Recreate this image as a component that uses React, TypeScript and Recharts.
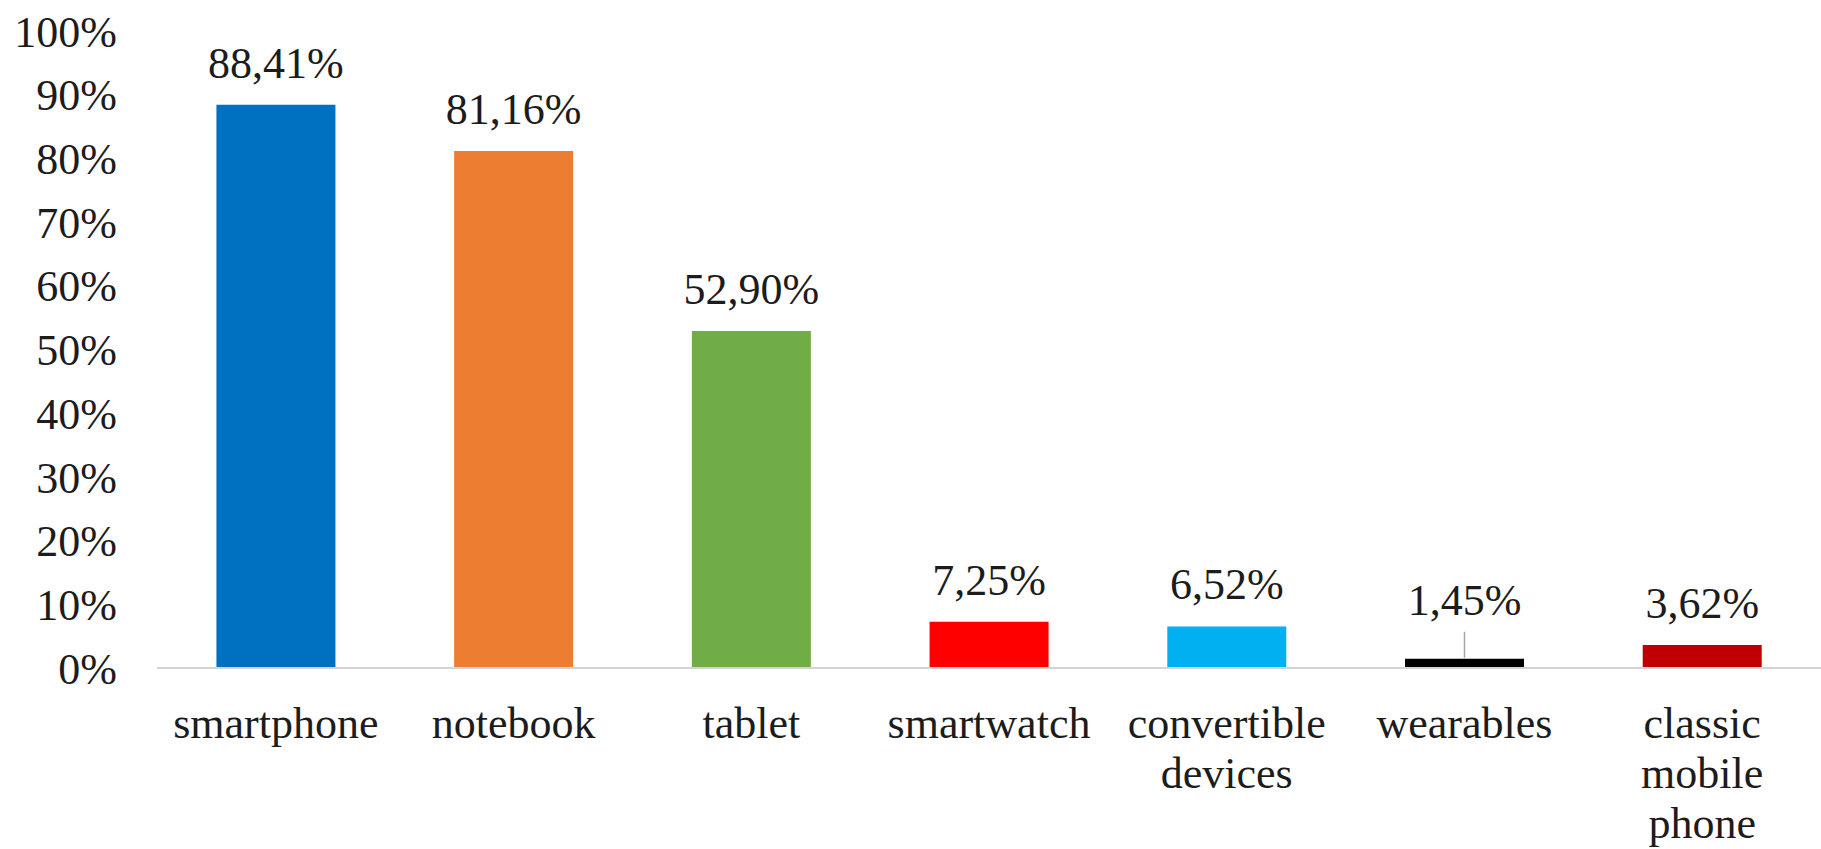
import { BarChart, Bar, XAxis, YAxis, Cell, LabelList } from "recharts";

const categories = [
  "smartphone",
  "notebook",
  "tablet",
  "smartwatch",
  "convertible devices",
  "wearables",
  "classic mobile phone",
];
const shares = [88.41, 81.16, 52.9, 7.25, 6.52, 1.45, 3.62];
const barColors = ["#0070C0", "#ED7D31", "#70AD47", "#FF0000", "#00B0F0", "#000000", "#C00000"];
const yTicks = [0, 10, 20, 30, 40, 50, 60, 70, 80, 90, 100];

const FONT = "'Liberation Serif', 'Times New Roman', serif";
const TEXT = "#1c1c1c";

const data = categories.map((name, i) => ({ name, value: shares[i] }));

const fmt = (v: number) => v.toFixed(2).replace(".", ",") + "%";

// multi-line category labels, one word per line
function CategoryTick(props: any) {
  const { x, y, payload } = props;
  const words = String(payload.value).split(" ");
  return (
    <text x={x} y={y} textAnchor="middle" fontFamily={FONT} fontSize={44} fill={TEXT}>
      {words.map((w, i) => (
        <tspan key={i} x={x} dy={i === 0 ? 70 : 50}>
          {w}
        </tspan>
      ))}
    </text>
  );
}

// value labels; the tiny wearables bar gets its label lifted with a leader line
function ValueLabel(props: any) {
  const { x, y, width, value, index } = props;
  const cx = Number(x) + Number(width) / 2;
  const top = Number(y);
  const lifted = categories[index] === "wearables";
  return (
    <g>
      {lifted && (
        <line x1={cx} y1={top - 1} x2={cx} y2={top - 27} stroke="#a6a6a6" strokeWidth={1.5} />
      )}
      <text
        x={cx}
        y={top - (lifted ? 44 : 27)}
        textAnchor="middle"
        fontFamily={FONT}
        fontSize={44}
        fill={TEXT}
      >
        {fmt(Number(value))}
      </text>
    </g>
  );
}

export default function App() {
  return (
    <div style={{ position: "absolute", left: 0, top: 0, background: "#fff" }}>
      <BarChart
        width={1821}
        height={849}
        data={data}
        margin={{ top: 31, right: 0, left: 0, bottom: 0 }}
        barCategoryGap="25%"
      >
        <XAxis
          dataKey="name"
          height={181}
          interval={0}
          tickLine={false}
          tickSize={0}
          tickMargin={0}
          axisLine={{ stroke: "#d4d4d4", strokeWidth: 2 }}
          tick={<CategoryTick />}
        />
        <YAxis
          width={157}
          domain={[0, 100]}
          ticks={yTicks}
          interval={0}
          axisLine={false}
          tickLine={false}
          tickSize={0}
          tickMargin={40}
          tickFormatter={(v: number) => `${v}%`}
          tick={{ fontFamily: FONT, fontSize: 44, fill: TEXT }}
        />
        <Bar dataKey="value" isAnimationActive={false}>
          {data.map((d, i) => (
            <Cell key={d.name} fill={barColors[i]} />
          ))}
          <LabelList dataKey="value" content={<ValueLabel />} />
        </Bar>
      </BarChart>
    </div>
  );
}
